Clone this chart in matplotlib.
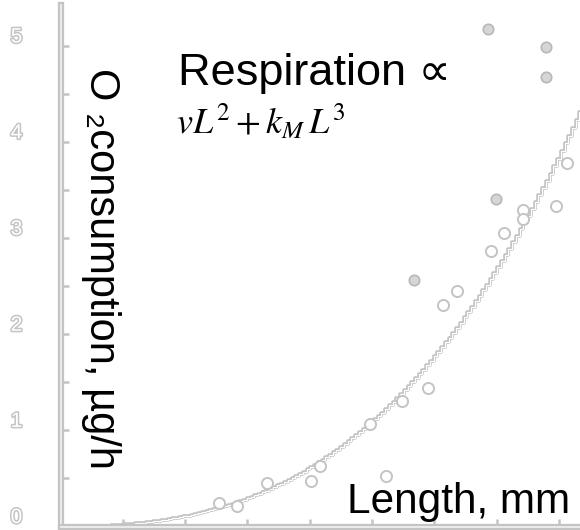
import numpy as np
import matplotlib
matplotlib.use("Agg")
import matplotlib.pyplot as plt
import matplotlib.patheffects as pe
import matplotlib.transforms as mtransforms

plt.rcParams['font.family'] = ['Liberation Sans', 'DejaVu Sans']
plt.rcParams['mathtext.fontset'] = 'stix'

# measured O2 consumption against body length
len_open = [8.13, 7.95, 7.42, 7.42, 7.12, 6.91, 6.36, 6.14, 5.90, 5.48,
            4.97, 5.22, 4.17, 4.02, 3.31, 2.83, 2.54]
o2_open = [3.78, 3.33, 3.29, 3.20, 3.05, 2.87, 2.45, 2.31, 1.44, 1.31,
           1.07, 0.53, 0.63, 0.47, 0.45, 0.21, 0.24]
len_filled = [6.86, 7.79, 7.79, 6.99, 5.67]
o2_filled = [5.18, 4.99, 4.68, 3.41, 2.56]

# fitted respiration model  R = v L^2 + k_M L^3
v = 0.0164
k_M = 0.0055
L_start, L_end, L_step = 0.83, 8.5, 0.06

y_tick_labels = ['0', '1', '2', '3', '4', '5']

grey = '#c4c4c4'
outline = [pe.Stroke(linewidth=2.6, foreground=grey),
           pe.Stroke(linewidth=0.8, foreground='white')]

fig = plt.figure(figsize=(5.8, 5.3), dpi=100)
ax = fig.add_axes([60.5 / 580, 3.5 / 530, 519.5 / 580, 521.5 / 530])
ax.set_xlim(0, 519.5 / 62.3)
ax.set_ylim(0, 521.5 / 96.1)

L = np.arange(L_start, L_end, L_step)
R = v * L**2 + k_M * L**3
ax.step(L, R, where='post', color=grey, lw=2.2,
        path_effects=outline, zorder=2)

ax.plot(len_open, o2_open, ls='none', marker='o', ms=8,
        mfc='white', mec=grey, mew=1.4, zorder=3)
ax.plot(len_filled, o2_filled, ls='none', marker='o', ms=7.5,
        mfc='#d6d6d6', mec='#b8b8b8', mew=1.2, zorder=3)

for side in ['top', 'right']:
    ax.spines[side].set_visible(False)
for side in ['left', 'bottom']:
    ax.spines[side].set_color(grey)
    ax.spines[side].set_linewidth(4.5)
    ax.spines[side].set_path_effects([pe.Stroke(linewidth=4.5, foreground=grey),
                                      pe.Stroke(linewidth=1.4, foreground='#ececec')])

ax.set_xticks(np.arange(1, 9))
ax.set_yticks(np.arange(0.5, 5.01, 0.5))
ax.tick_params(direction='in', length=6, width=1.8, color=grey,
               labelleft=False, labelbottom=False)

# y tick labels drawn as hollow digits, sitting a little above their ticks
lab_trans = mtransforms.offset_copy(
    mtransforms.blended_transform_factory(fig.transFigure, ax.transData),
    fig=fig, x=0, y=9, units='dots')
for i, lab in enumerate(y_tick_labels):
    t = fig.text(16.5 / 580, i, lab, transform=lab_trans, fontsize=15,
                 color='white', ha='center', va='center')
    t.set_path_effects([pe.withStroke(linewidth=2.2, foreground=grey)])

fig.text(178 / 580, 1 - 85 / 530, 'Respiration \u221d', fontsize=32.5,
         ha='left', va='baseline')
fig.text(176 / 580, 1 - 134 / 530, r'$vL^2+k_M\,L^3$', fontsize=26,
         ha='left', va='baseline')
fig.text(347 / 580, 1 - 513 / 530, 'Length, mm', fontsize=30.5,
         ha='left', va='baseline')
fig.text(101 / 580, 1 - 268 / 530, 'O \u2082consumption, \u00b5g/h',
         fontsize=30, rotation=270, ha='center', va='center')

fig.savefig('out.png', dpi=100)
